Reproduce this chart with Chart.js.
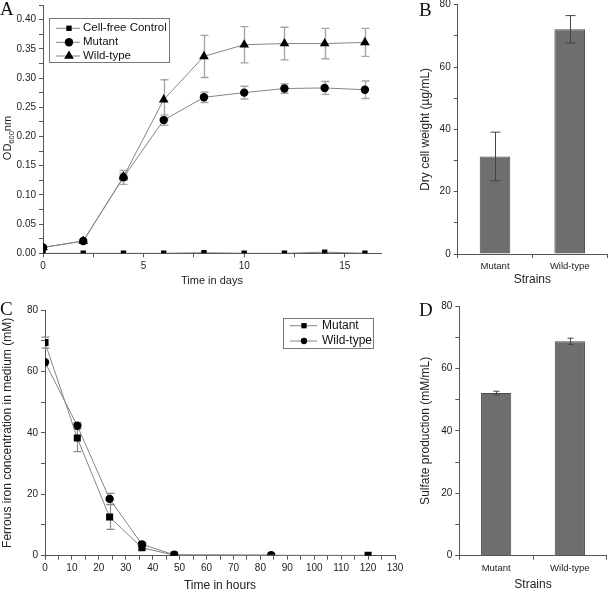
<!DOCTYPE html>
<html>
<head>
<meta charset="utf-8">
<script src="https://cdn.jsdelivr.net/npm/chart.js@4.4.0/dist/chart.umd.min.js"></script>
<style>
body { margin: 0; background: #fff; overflow: hidden; width: 608px; height: 591px; position: relative; }
canvas { position: absolute; }
.tag { position: absolute; font-family: 'Liberation Serif', 'Times New Roman', serif; font-size: 19px; line-height: 19px; color: #111; }
</style>
</head>
<body>
<canvas id="cA"></canvas>
<canvas id="cB"></canvas>
<canvas id="cC"></canvas>
<canvas id="cD"></canvas>
<div class="tag" style="left:0px;top:-1px">A</div>
<div class="tag" style="left:419px;top:0px">B</div>
<div class="tag" style="left:0px;top:299px">C</div>
<div class="tag" style="left:419px;top:300px">D</div>
<script>
// A - growth (OD600) over days
const daysA = [0, 2, 4, 6, 8, 10, 12, 14, 16];
const controlOD = [0.000, 0.000, 0.000, 0.000, 0.001, 0.000, 0.000, 0.002, 0.000];
const mutantOD = [0.010, 0.021, 0.130, 0.228, 0.267, 0.275, 0.282, 0.283, 0.280];
const mutantODErr = [0, 0, 0.012, 0.009, 0.009, 0.011, 0.008, 0.011, 0.015];
const wildOD = [0.010, 0.021, 0.131, 0.263, 0.337, 0.357, 0.359, 0.359, 0.361];
const wildODErr = [0, 0, 0.006, 0.034, 0.036, 0.031, 0.028, 0.026, 0.024];

// B - dry cell weight
const strains = ['Mutant', 'Wild-type'];
const dryWeight = [31.3, 72.1];
const dryWeightErr = [7.8, 4.4];

// C - ferrous iron over hours
const hoursMutant = [0, 12, 24, 36, 48, 120];
const ironMutant = [69.4, 38.3, 12.6, 2.6, 0.2, 0.1];
const ironMutantErr = [1.8, 4.4, 4.0, 0.6, 0, 0];
const hoursWild = [0, 12, 24, 36, 48, 84];
const ironWild = [63.0, 42.3, 18.5, 3.7, 0.3, 0.2];
const ironWildErr = [0, 1.0, 1.8, 0.5, 0, 0];

// D - sulfate production
const sulfate = [52.1, 68.7];
const sulfateErr = [0.6, 1.0];

const axisColor = '#555';
const textColor = '#222';
const lineGray = '#858585';
Chart.defaults.font.family = '"Liberation Sans", Arial, sans-serif';
Chart.defaults.color = textColor;

// size a canvas and work out padding so the plot area lands where we want it
function place(id, rect, area) {
    const c = document.getElementById(id);
    c.width = rect.w;
    c.height = rect.h;
    c.style.left = rect.x + 'px';
    c.style.top = rect.y + 'px';
    return {
        padding: { left: 0, top: area.t - rect.y, right: rect.x + rect.w - area.r, bottom: 0 },
        yWidth: area.l - rect.x,
        xHeight: rect.y + rect.h - area.b,
        origin: { x: rect.x, y: rect.y }
    };
}

function linearAxis(min, max, step, every, digits, horizontal, fit, title, titleSize) {
    return {
        type: 'linear', min: min, max: max,
        border: { color: axisColor, width: 1 },
        grid: { drawOnChartArea: false, color: axisColor, tickLength: 4 },
        ticks: {
            stepSize: step, includeBounds: false, autoSkip: false, maxRotation: 0, padding: 3,
            font: { size: 10 }, color: textColor,
            callback: function(v) {
                const k = v / every;
                return Math.abs(k - Math.round(k)) < 1e-6 ? v.toFixed(digits) : '';
            }
        },
        title: title ? { display: true, text: title, color: textColor, font: { size: titleSize || 12 } } : { display: false },
        afterFit: function(s) { if (horizontal) s.height = fit; else s.width = fit; }
    };
}

function categoryAxis(fit) {
    return {
        type: 'category', offset: true,
        border: { color: axisColor, width: 1 },
        grid: { offset: true, drawOnChartArea: false, color: axisColor, tickLength: 4 },
        ticks: { font: { size: 9.5 }, color: textColor, padding: 3 },
        title: { display: true, text: 'Strains', color: textColor, font: { size: 12 } },
        afterFit: function(s) { s.height = fit; }
    };
}

function drawErrors(chart, o) {
    const ctx = chart.ctx;
    const ys = chart.scales.y;
    ctx.save();
    ctx.strokeStyle = o.color;
    ctx.lineWidth = o.width;
    chart.data.datasets.forEach(function(ds, i) {
        if (!ds.errors) return;
        chart.getDatasetMeta(i).data.forEach(function(el, j) {
            const e = ds.errors[j];
            if (!e) return;
            const raw = ds.data[j];
            const v = typeof raw === 'object' ? raw.y : raw;
            const x = Math.round(el.x) + 0.5;
            const y1 = ys.getPixelForValue(v + e), y2 = ys.getPixelForValue(v - e);
            ctx.beginPath();
            ctx.moveTo(x, y1); ctx.lineTo(x, y2);
            ctx.moveTo(x - o.cap, y1); ctx.lineTo(x + o.cap, y1);
            ctx.moveTo(x - o.cap, y2); ctx.lineTo(x + o.cap, y2);
            ctx.stroke();
        });
    });
    ctx.restore();
}

const errorBars = {
    id: 'errorBars',
    beforeDatasetsDraw: function(chart, args, o) { if (!o.onTop) drawErrors(chart, o); },
    afterDatasetsDraw: function(chart, args, o) { if (o.onTop) drawErrors(chart, o); }
};

const boxLegend = {
    id: 'boxLegend',
    afterDraw: function(chart, args, o) {
        const ctx = chart.ctx, ox = o.origin.x, oy = o.origin.y;
        ctx.save();
        ctx.strokeStyle = '#777';
        ctx.lineWidth = 1;
        ctx.strokeRect(Math.round(o.box.x - ox) + 0.5, Math.round(o.box.y - oy) + 0.5, o.box.w, o.box.h);
        ctx.font = o.font;
        ctx.textBaseline = 'middle';
        chart.data.datasets.forEach(function(ds, i) {
            const y = o.rows[i] - oy;
            ctx.strokeStyle = ds.borderColor;
            ctx.lineWidth = 1;
            ctx.beginPath();
            ctx.moveTo(o.lineX[0] - ox, y); ctx.lineTo(o.lineX[1] - ox, y);
            ctx.stroke();
            ctx.fillStyle = '#000';
            ctx.strokeStyle = '#000';
            Chart.helpers.drawPoint(ctx, { pointStyle: ds.pointStyle, radius: ds.pointRadius * o.markScale, rotation: 0, borderWidth: 0 }, o.markX - ox, y);
            ctx.fillStyle = '#111';
            ctx.fillText(ds.label, o.textX - ox, y);
        });
        ctx.restore();
    }
};

function series(label, xs, ys, errs, style, radius) {
    return {
        label: label,
        data: xs.map(function(x, i) { return { x: x, y: ys[i] }; }),
        errors: errs,
        borderColor: lineGray, borderWidth: 1, tension: 0,
        pointStyle: style, pointRadius: radius,
        pointBackgroundColor: '#000', pointBorderColor: '#000', pointBorderWidth: 0
    };
}

// ---------- A ----------
const lA = place('cA', { x: 0, y: -10, w: 400, h: 302 }, { l: 43, t: 5, r: 381, b: 253.3 });
const odTitle = {
    id: 'odTitle',
    afterDraw: function(chart) {
        const ctx = chart.ctx;
        ctx.save();
        ctx.translate(8 - lA.origin.x, 138 - lA.origin.y);
        ctx.rotate(-Math.PI / 2);
        ctx.fillStyle = textColor;
        ctx.textBaseline = 'middle';
        const big = '11px "Liberation Sans", Arial, sans-serif';
        const small = '7.5px "Liberation Sans", Arial, sans-serif';
        ctx.font = big; const w1 = ctx.measureText('OD').width, w3 = ctx.measureText('nm').width;
        ctx.font = small; const w2 = ctx.measureText('600').width;
        let x = -(w1 + w2 + w3) / 2;
        ctx.font = big; ctx.fillText('OD', x, 0); x += w1;
        ctx.font = small; ctx.fillText('600', x, 3.5); x += w2;
        ctx.font = big; ctx.fillText('nm', x, 0);
        ctx.restore();
    }
};
new Chart(document.getElementById('cA'), {
    type: 'line',
    data: {
        datasets: [
            series('Cell-free Control', daysA, controlOD, null, 'rect', 3.8),
            series('Mutant', daysA, mutantOD, mutantODErr, 'circle', 4.2),
            series('Wild-type', daysA, wildOD, wildODErr, 'triangle', 5.6)
        ]
    },
    options: {
        responsive: false, animation: false,
        layout: { padding: lA.padding },
        scales: {
            x: linearAxis(0, 16.8, 2.5, 5, 0, true, lA.xHeight, 'Time in days', 11),
            y: linearAxis(0, 0.425, 0.025, 0.05, 2, false, lA.yWidth, null)
        },
        plugins: {
            legend: { display: false }, tooltip: { enabled: false },
            errorBars: { color: '#a6a6a6', width: 1.4, cap: 4, onTop: false },
            boxLegend: {
                origin: lA.origin, box: { x: 49, y: 18, w: 120, h: 44 },
                rows: [28.3, 42.3, 56], lineX: [56, 80], markX: 69, textX: 83,
                font: '11.5px "Liberation Sans", Arial, sans-serif', markScale: 1
            }
        }
    },
    plugins: [errorBars, boxLegend, odTitle]
});

// ---------- B ----------
const lB = place('cB', { x: 414, y: -10, w: 198, h: 301 }, { l: 457.7, t: 4.7, r: 607, b: 254 });
new Chart(document.getElementById('cB'), {
    type: 'bar',
    data: {
        labels: strains,
        datasets: [{
            data: dryWeight, errors: dryWeightErr,
            backgroundColor: '#6e6e6e', borderColor: '#4d4d4d', borderWidth: 1,
            barPercentage: 0.41, categoryPercentage: 1
        }]
    },
    options: {
        responsive: false, animation: false,
        layout: { padding: lB.padding },
        scales: {
            x: categoryAxis(lB.xHeight),
            y: linearAxis(0, 80, 10, 20, 0, false, lB.yWidth, 'Dry cell weight (µg/mL)')
        },
        plugins: {
            legend: { display: false }, tooltip: { enabled: false },
            errorBars: { color: '#444', width: 1, cap: 5, onTop: true }
        }
    },
    plugins: [errorBars]
});

// ---------- C ----------
const lC = place('cC', { x: -4, y: 280, w: 416, h: 317 }, { l: 45, t: 310, r: 395, b: 555.7 });
new Chart(document.getElementById('cC'), {
    type: 'line',
    data: {
        datasets: [
            series('Mutant', hoursMutant, ironMutant, ironMutantErr, 'rect', 5),
            series('Wild-type', hoursWild, ironWild, ironWildErr, 'circle', 4.2)
        ]
    },
    options: {
        responsive: false, animation: false,
        layout: { padding: lC.padding },
        scales: {
            x: linearAxis(0, 130, 5, 10, 0, true, lC.xHeight, 'Time in hours'),
            y: linearAxis(0, 80, 10, 20, 0, false, lC.yWidth, 'Ferrous iron concentration in medium (mM)')
        },
        plugins: {
            legend: { display: false }, tooltip: { enabled: false },
            errorBars: { color: '#8a8a8a', width: 1.2, cap: 4, onTop: false },
            boxLegend: {
                origin: lC.origin, box: { x: 283, y: 318, w: 90, h: 30 },
                rows: [325.7, 341], lineX: [290, 317], markX: 304, textX: 322,
                font: '12px "Liberation Sans", Arial, sans-serif', markScale: 0.75
            }
        }
    },
    plugins: [errorBars, boxLegend]
});

// ---------- D ----------
const lD = place('cD', { x: 414, y: 280, w: 198, h: 316 }, { l: 459.3, t: 306, r: 606.7, b: 555.7 });
new Chart(document.getElementById('cD'), {
    type: 'bar',
    data: {
        labels: strains,
        datasets: [{
            data: sulfate, errors: sulfateErr,
            backgroundColor: '#6e6e6e', borderColor: '#4d4d4d', borderWidth: 1,
            barPercentage: 0.41, categoryPercentage: 1
        }]
    },
    options: {
        responsive: false, animation: false,
        layout: { padding: lD.padding },
        scales: {
            x: categoryAxis(lD.xHeight),
            y: linearAxis(0, 80, 10, 20, 0, false, lD.yWidth, 'Sulfate production (mM/mL)')
        },
        plugins: {
            legend: { display: false }, tooltip: { enabled: false },
            errorBars: { color: '#444', width: 1, cap: 3, onTop: true }
        }
    },
    plugins: [errorBars]
});
</script>
</body>
</html>
